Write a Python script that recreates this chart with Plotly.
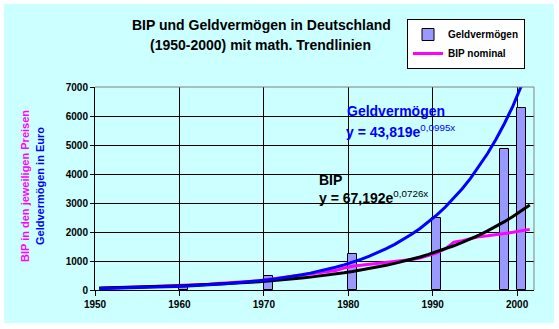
import plotly.graph_objects as go
import math

# ---- data ----
years_bip = list(range(1950, 2002))
bip_nominal = [50, 60, 70, 78, 85, 95, 105, 115, 125, 140,
               160, 175, 190, 200, 220, 240, 255, 262, 285, 320,
               360, 400, 435, 480, 515, 540, 585, 625, 670, 760,
               820, 850, 880, 920, 950, 985, 1020, 1050, 1100, 1180,
               1280, 1420, 1650, 1700, 1780, 1840, 1870, 1900, 1950, 1990,
               2030, 2090]

gv_years = [1960, 1970, 1980, 1990, 1998, 2000]
gv_values = [120, 480, 1240, 2475, 4860, 6270]

# trendline equations shown on the chart (x = 1 for 1950)
gv_a, gv_b = 43.819, 0.0995
bip_a, bip_b = 67.192, 0.0726

x_ticks = [1950, 1960, 1970, 1980, 1990, 2000]
y_ticks = [0, 1000, 2000, 3000, 4000, 5000, 6000, 7000]

FONT = "Liberation Sans, Arial, sans-serif"
CYAN = "#CCFFFF"

trend_x = [y + 0.5 for y in years_bip]
trend_idx = [y - 1949 for y in years_bip]
gv_trend = [gv_a * math.exp(gv_b * k) for k in trend_idx]
bip_trend = [bip_a * math.exp(bip_b * k) for k in trend_idx]

fig = go.Figure()
fig.add_trace(go.Bar(
    x=[y + 0.5 for y in gv_years], y=gv_values, width=1.05,
    name="Geldvermögen",
    marker=dict(color="#9999FF", line=dict(color="black", width=1)),
))
fig.add_trace(go.Scatter(
    x=[y + 0.5 for y in years_bip], y=bip_nominal, mode="lines",
    name="BIP nominal", line=dict(color="#FF00FF", width=3),
))
fig.add_trace(go.Scatter(
    x=trend_x, y=bip_trend, mode="lines", showlegend=False,
    line=dict(color="black", width=3),
))
fig.add_trace(go.Scatter(
    x=trend_x, y=gv_trend, mode="lines", showlegend=False,
    line=dict(color="#0000FF", width=3),
))

# plot area: x 95..534 px, y 87..290 px
W, L, R, T, B = 559, 95, 534, 87, 290
def px(xp):
    return (xp - L) / (R - L)
def py(yp):
    return (B - yp) / (B - T)

fig.update_layout(
    width=559, height=329,
    margin=dict(l=L, r=W - R, t=T, b=329 - B),
    paper_bgcolor="white", plot_bgcolor=CYAN,
    font=dict(family=FONT, color="black"),
    showlegend=True,
    legend=dict(
        x=px(407), y=py(19), xanchor="left", yanchor="top",
        bgcolor="white", bordercolor="black", borderwidth=1,
        font=dict(size=10, family=FONT, weight="bold"),
        itemwidth=30, tracegroupgap=0,
    ),
    xaxis=dict(
        range=[1950, 2002], tickvals=x_ticks, ticktext=[str(v) for v in x_ticks],
        showgrid=True, gridcolor="black", gridwidth=1,
        showline=True, linecolor="black", linewidth=1,
        ticks="outside", ticklen=5, tickcolor="black",
        tickfont=dict(size=10, weight="bold"), zeroline=False,
    ),
    yaxis=dict(
        range=[0, 7000], tickvals=y_ticks, ticktext=[str(v) for v in y_ticks],
        showgrid=True, gridcolor="black", gridwidth=1,
        showline=True, linecolor="black", linewidth=1,
        ticks="outside", ticklen=4, tickcolor="black",
        tickfont=dict(size=10, weight="bold"), zeroline=False,
    ),
    bargap=0,
)

# cyan chart area background with thin white frame
fig.add_shape(type="rect", xref="paper", yref="paper", layer="below",
              x0=px(4), x1=px(554), y0=py(323), y1=py(4),
              fillcolor=CYAN, line=dict(width=0))
# gray top / right plot border
fig.add_shape(type="line", xref="paper", yref="paper", layer="above",
              x0=0, x1=1, y0=1, y1=1, line=dict(color="#808080", width=1))
fig.add_shape(type="line", xref="paper", yref="paper", layer="above",
              x0=1, x1=1, y0=0, y1=1, line=dict(color="#808080", width=1))

ann = []
ann.append(dict(text="<b>BIP und Geldvermögen in Deutschland</b>", x=px(261), y=py(25),
                font=dict(size=14, color="black")))
ann.append(dict(text="<b>(1950-2000) mit math. Trendlinien</b>", x=px(260), y=py(45),
                font=dict(size=14, color="black")))
ann.append(dict(text="<b>BIP in den jeweiligen Preisen</b>", x=px(25), y=py(186),
                textangle=-90, font=dict(size=11, color="#FF00FF")))
ann.append(dict(text="<b>Geldvermögen in Euro</b>", x=px(40), y=py(186),
                textangle=-90, font=dict(size=11, color="#0000FF")))
ann.append(dict(text="<b>Geldvermögen</b>", x=px(345), y=py(111), xanchor="left",
                font=dict(size=14, color="#0000FF")))
ann.append(dict(text=f"<b>y = {str(gv_a).replace('.', ',')}e</b><sup>{str(gv_b).replace('.', ',')}x</sup>",
                x=px(344), y=py(131), xanchor="left",
                font=dict(size=14, color="#0000FF")))
ann.append(dict(text="<b>BIP</b>", x=px(317), y=py(180), xanchor="left",
                font=dict(size=14, color="black")))
ann.append(dict(text=f"<b>y = {str(bip_a).replace('.', ',')}e</b><sup>{str(bip_b).replace('.', ',')}x</sup>",
                x=px(317), y=py(197), xanchor="left",
                font=dict(size=14, color="black")))
for a in ann:
    a.setdefault("xanchor", "center")
    a.update(xref="paper", yref="paper", showarrow=False, yanchor="middle")
fig.update_layout(annotations=ann)

fig.write_html("out.html")
